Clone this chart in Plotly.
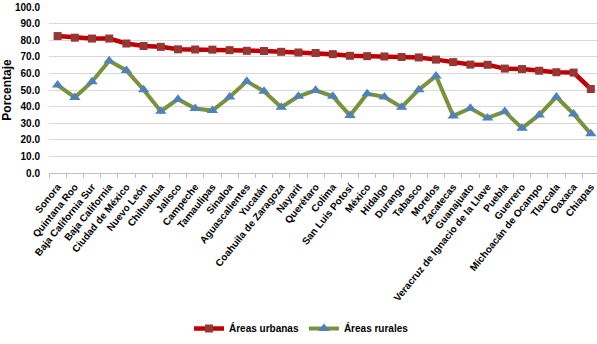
import plotly.graph_objects as go

estados = ["Sonora", "Quintana Roo", "Baja California Sur", "Baja California", "Ciudad de México",
           "Nuevo León", "Chihuahua", "Jalisco", "Campeche", "Tamaulipas", "Sinaloa",
           "Aguascalientes", "Yucatán", "Coahuila de Zaragoza", "Nayarit", "Querétaro", "Colima",
           "San Luis Potosí", "México", "Hidalgo", "Durango", "Tabasco", "Morelos", "Zacatecas",
           "Guanajuato", "Veracruz de Ignacio de la Llave", "Puebla", "Guerrero",
           "Michoacán de Ocampo", "Tlaxcala", "Oaxaca", "Chiapas"]

urbanas = [82.5, 81.5, 81.0, 81.0, 78.0, 76.5, 76.0, 74.5, 74.4, 74.3, 74.0, 73.6, 73.5, 73.0,
           72.6, 72.3, 71.6, 70.6, 70.4, 70.2, 69.9, 69.6, 68.3, 66.8, 65.3, 65.2, 62.9, 62.6,
           61.6, 60.7, 60.5, 50.6]

rurales = [53.0, 45.5, 55.0, 67.6, 61.8, 50.2, 37.2, 44.5, 38.8, 37.6, 45.8, 55.2, 49.2, 39.6,
           46.2, 49.8, 46.2, 34.6, 47.8, 45.8, 39.6, 50.2, 58.5, 34.4, 39.0, 33.2, 37.0, 27.0,
           35.0, 45.8, 35.6, 23.6]

yticks = [0, 10, 20, 30, 40, 50, 60, 70, 80, 90, 100]

FONT = "Liberation Sans, Arial, sans-serif"

fig = go.Figure()
fig.add_trace(go.Scatter(
    x=estados, y=urbanas, name="Áreas urbanas", mode="lines+markers",
    line=dict(color="#C00000", width=4.5),
    marker=dict(symbol="square", size=8, color="#953735"),
    cliponaxis=False,
))
fig.add_trace(go.Scatter(
    x=estados, y=rurales, name="Áreas rurales", mode="lines+markers",
    line=dict(color="#77933C", width=4),
    marker=dict(symbol="triangle-up", size=10, color="#4F81BD"),
    cliponaxis=False,
))

fig.update_layout(
    width=597, height=344,
    margin=dict(l=49, r=0, t=7, b=171, autoexpand=False),
    paper_bgcolor="white", plot_bgcolor="white",
    font=dict(family=FONT, color="black"),
    showlegend=True,
    legend=dict(orientation="h", x=0.505, xanchor="center", xref="container",
                y=0.045, yanchor="middle", yref="container",
                font=dict(size=10, weight="bold", family=FONT), itemwidth=30,
                tracegroupgap=0),
)
fig.update_xaxes(
    type="category", range=[-0.5, 31.36], tickangle=-51, automargin=False,
    tickfont=dict(size=10, weight="bold", family=FONT),
    showgrid=False, showline=True, linecolor="#BFBFBF", linewidth=1,
    ticks="outside", tickson="boundaries", ticklen=4, tickcolor="#BFBFBF",
    ticklabelstandoff=3,
)
fig.update_yaxes(
    range=[0, 100], tickvals=yticks, tickformat=".1f", automargin=False,
    tickfont=dict(size=10, weight="bold", family=FONT),
    showgrid=True, gridcolor="#D9D9D9", gridwidth=1,
    zeroline=False, showline=False, ticklabelstandoff=8,
    title=dict(text="Porcentaje", font=dict(size=12, weight="bold", family=FONT), standoff=0),
)

fig.write_html("out.html", config={"displayModeBar": False},
               post_script="document.body.style.margin='0';")
